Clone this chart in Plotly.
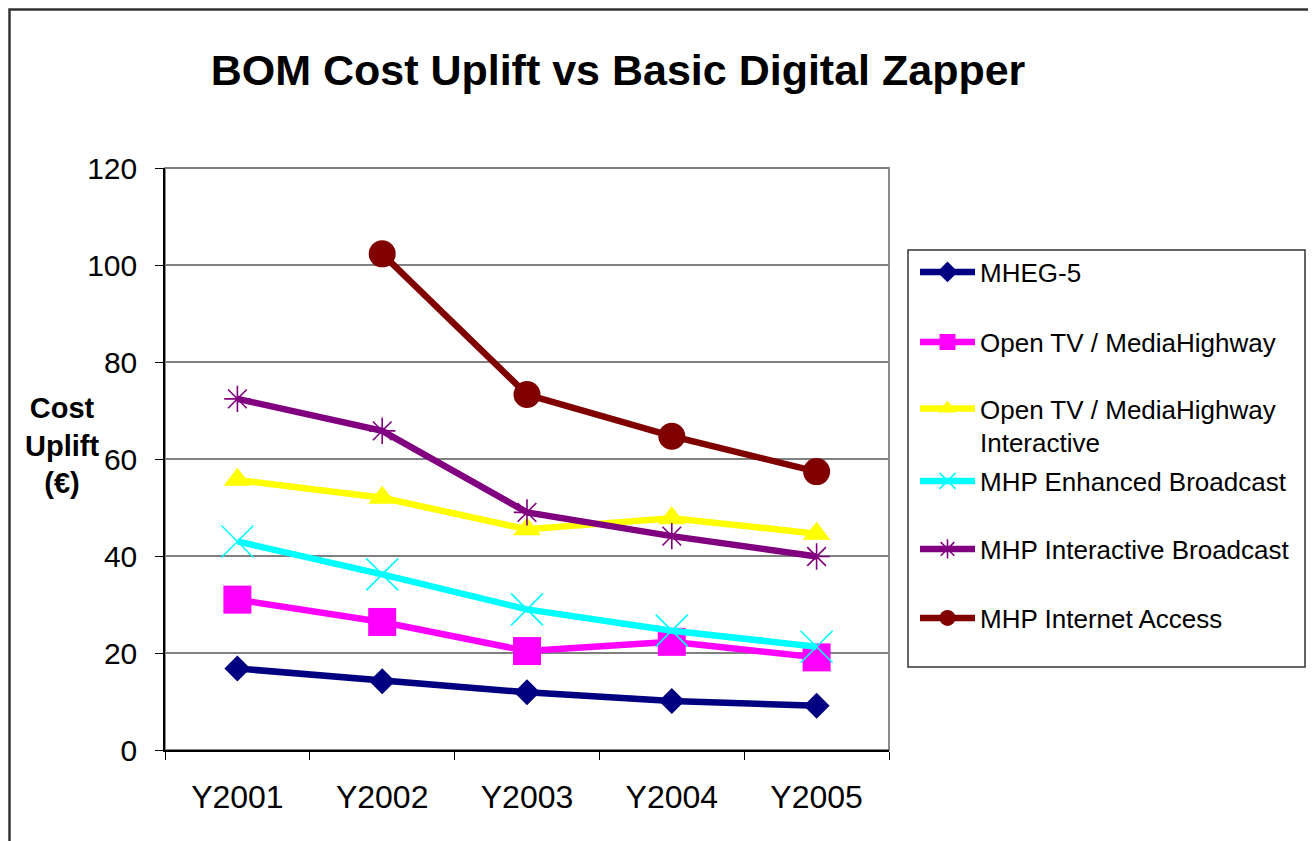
import plotly.graph_objects as go

# ---------------- data ----------------
years = ["Y2001", "Y2002", "Y2003", "Y2004", "Y2005"]
mheg5 = [16.8, 14.2, 11.9, 10.1, 9.1]
opentv = [31.0, 26.4, 20.4, 22.3, 19.1]
opentv_interactive = [55.7, 52.0, 45.5, 47.8, 44.6]
mhp_enhanced = [43.0, 36.2, 29.0, 24.6, 21.3]
mhp_interactive = [72.4, 65.8, 49.0, 44.1, 39.9]
mhp_internet = [None, 102.3, 73.3, 64.7, 57.4]
y_tick_values = [0, 20, 40, 60, 80, 100, 120]

names = ["MHEG-5", "Open TV / MediaHighway", "Open TV / MediaHighway<br>Interactive",
         "MHP Enhanced Broadcast", "MHP Interactive Broadcast", "MHP Internet Access"]
series = [mheg5, opentv, opentv_interactive, mhp_enhanced, mhp_interactive, mhp_internet]
colors = ["#000080", "#FF00FF", "#FFFF00", "#00FFFF", "#800080", "#800000"]
symbols = ["diamond", "square", "triangle-up", "x-thin", "asterisk", "circle"]
sizes = [20, 28, 24, 32, 22, 27]

FONT = "Liberation Sans, Arial, sans-serif"

# page geometry (the page body has an 8px margin, so compensate)
OFF = 8
W, H = 1316 - OFF, 841 - OFF
L = 165 - OFF
T = 168 - OFF
R = W - (889 - OFF)
B = H - (750 - OFF)
PW, PH = W - L - R, H - T - B


def px_x(p):
    return (p - OFF - L) / PW


def px_y(p):
    return (H - B - (p - OFF)) / PH


fig = go.Figure()
legend_rows = [272, 342, 425.5, 481, 549, 618]
for i, (n, s, c, sym, sz) in enumerate(zip(names, series, colors, symbols, sizes)):
    open_sym = sym in ("x-thin", "asterisk")
    fig.add_trace(go.Scatter(
        x=years, y=s, name=n, mode="lines+markers",
        line=dict(color=c, width=6.5),
        marker=dict(symbol=sym, size=sz, color=c,
                    line=dict(color=c, width=1.6 if open_sym else 0)),
        connectgaps=False,
        legend="legend" if i == 0 else f"legend{i+1}",
    ))

legend_common = dict(
    font=dict(family=FONT, size=26, color="black"),
    bgcolor="rgba(0,0,0,0)", borderwidth=0,
    xanchor="left", yanchor="middle", itemwidth=55, valign="top",
)
legends = {}
for i, row in enumerate(legend_rows):
    key = "legend" if i == 0 else f"legend{i+1}"
    legends[key] = dict(legend_common, x=px_x(915), y=px_y(row))

fig.update_layout(
    width=W, height=H,
    margin=dict(l=L, r=R, t=T, b=B),
    paper_bgcolor="white", plot_bgcolor="white",
    font=dict(family=FONT, color="black"),
    title=dict(text="<b>BOM Cost Uplift vs Basic Digital Zapper</b>",
               font=dict(family=FONT, size=43, color="black"),
               xref="paper", x=px_x(618), xanchor="center",
               yref="container", y=1 - (70 - OFF) / H, yanchor="middle"),
    xaxis=dict(type="category", range=[-0.5, 4.5],
               showgrid=False, showline=True, linecolor="black", linewidth=1.5,
               ticks="outside", tickson="boundaries", ticklen=8, tickcolor="black",
               tickwidth=1.2, ticklabelstandoff=18,
               tickfont=dict(family=FONT, size=32, color="black")),
    yaxis=dict(range=[0, 120], tickvals=y_tick_values,
               showgrid=True, gridcolor="#808080", gridwidth=1.6,
               showline=True, linecolor="black", linewidth=1.5,
               ticks="outside", ticklen=8, tickcolor="black", tickwidth=1.2,
               ticklabelstandoff=12, zeroline=False,
               tickfont=dict(family=FONT, size=30, color="black")),
    showlegend=True,
    **legends,
)

# plot-area frame (gray, top and right)
fig.add_shape(type="rect", xref="x domain", yref="y domain", x0=0, x1=1, y0=0, y1=1,
              line=dict(color="#808080", width=1.8), layer="below")
# legend box
fig.add_shape(type="rect", xref="paper", yref="paper",
              x0=px_x(908), x1=px_x(1305), y0=px_y(667), y1=px_y(250),
              line=dict(color="#333333", width=1.5), fillcolor="rgba(0,0,0,0)", layer="below")
# outer chart border
fig.add_shape(type="rect", xref="paper", yref="paper",
              x0=px_x(9.5), x1=px_x(1312), y0=px_y(860), y1=px_y(9.5),
              line=dict(color="#333333", width=2.5), layer="below")

# y-axis title (horizontal, multi-line, bold)
fig.add_annotation(text="<b>Cost<br>Uplift<br>(€)</b>", xref="paper", yref="paper",
                   x=px_x(62), y=px_y(445), xanchor="center", yanchor="middle",
                   showarrow=False, align="center",
                   font=dict(family=FONT, size=29, color="black"))

fig.write_html("out.html")
